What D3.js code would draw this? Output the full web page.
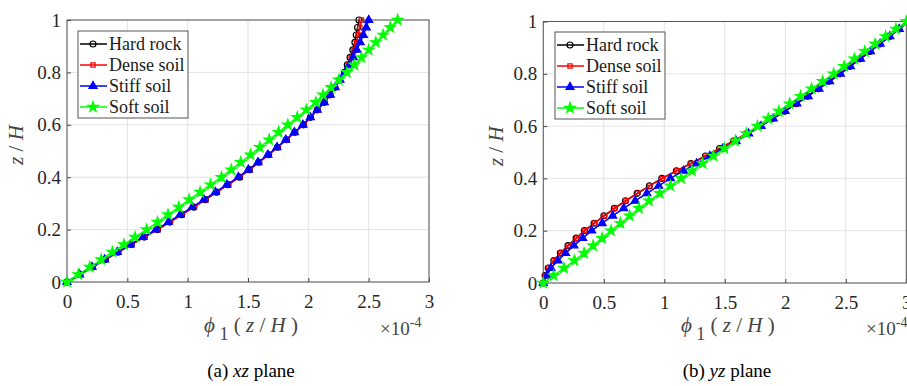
<!DOCTYPE html>
<html>
<head>
<meta charset="utf-8">
<script src="https://cdn.jsdelivr.net/npm/d3@7"></script>
<style>
  body { margin: 0; background: #fff; }
</style>
</head>
<body>
<svg width="907" height="386"></svg>
<script>
// z / H sample points (36 per curve)
const zValues = [0, 0.0286, 0.0571, 0.0857, 0.1143, 0.1429, 0.1714, 0.2, 0.2286, 0.2571, 0.2857, 0.3143,
  0.3429, 0.3714, 0.4, 0.4286, 0.4571, 0.4857, 0.5143, 0.5429, 0.5714, 0.6, 0.6286, 0.6571,
  0.6857, 0.7143, 0.7429, 0.7714, 0.8, 0.8286, 0.8571, 0.8857, 0.9143, 0.9429, 0.9714, 1];

// phi_1 values (x 1e-4), xz plane
const xzHardRock = [0, 0.107, 0.211, 0.318, 0.423, 0.533, 0.64, 0.75, 0.852, 0.95, 1.051, 1.146,
  1.24, 1.334, 1.43, 1.511, 1.59, 1.671, 1.745, 1.818, 1.888, 1.96, 2.018, 2.074,
  2.132, 2.18, 2.22, 2.259, 2.3, 2.323, 2.346, 2.369, 2.386, 2.397, 2.408, 2.42];
const xzDenseSoil = [0, 0.108, 0.213, 0.32, 0.425, 0.535, 0.642, 0.752, 0.854, 0.952, 1.053, 1.148,
  1.242, 1.336, 1.432, 1.513, 1.592, 1.673, 1.747, 1.82, 1.89, 1.962, 2.02, 2.076,
  2.134, 2.183, 2.224, 2.264, 2.305, 2.33, 2.355, 2.378, 2.398, 2.413, 2.427, 2.44];
const xzStiffSoil = [0, 0.104, 0.207, 0.312, 0.416, 0.524, 0.63, 0.737, 0.84, 0.938, 1.038, 1.135,
  1.23, 1.325, 1.42, 1.503, 1.583, 1.664, 1.74, 1.813, 1.884, 1.955, 2.016, 2.074,
  2.132, 2.182, 2.222, 2.262, 2.305, 2.34, 2.372, 2.402, 2.43, 2.456, 2.48, 2.5];
const xzSoftSoil = [0, 0.094, 0.188, 0.284, 0.376, 0.472, 0.564, 0.66, 0.75, 0.837, 0.927, 1.013,
  1.103, 1.19, 1.28, 1.361, 1.44, 1.521, 1.598, 1.676, 1.753, 1.83, 1.908, 1.984,
  2.062, 2.122, 2.189, 2.253, 2.32, 2.381, 2.44, 2.5, 2.559, 2.62, 2.679, 2.74];

// phi_1 values (x 1e-4), yz plane
const yzHardRock = [0, 0.015, 0.041, 0.087, 0.141, 0.204, 0.271, 0.34, 0.42, 0.501, 0.587, 0.679,
  0.776, 0.877, 0.98, 1.1, 1.22, 1.34, 1.457, 1.572, 1.681, 1.79, 1.893, 1.994,
  2.091, 2.184, 2.273, 2.361, 2.45, 2.533, 2.616, 2.699, 2.78, 2.86, 2.94, 3.02];
const yzDenseSoil = [0, 0.016, 0.043, 0.089, 0.144, 0.207, 0.275, 0.344, 0.424, 0.505, 0.591, 0.683,
  0.779, 0.88, 0.983, 1.102, 1.222, 1.342, 1.459, 1.573, 1.682, 1.79, 1.893, 1.994,
  2.091, 2.184, 2.273, 2.361, 2.45, 2.533, 2.616, 2.699, 2.78, 2.86, 2.94, 3.02];
const yzStiffSoil = [0, 0.029, 0.064, 0.121, 0.184, 0.253, 0.326, 0.4, 0.486, 0.573, 0.664, 0.759,
  0.856, 0.953, 1.05, 1.159, 1.267, 1.376, 1.484, 1.593, 1.697, 1.8, 1.9, 1.999,
  2.096, 2.189, 2.278, 2.366, 2.455, 2.538, 2.621, 2.704, 2.784, 2.864, 2.942, 3.02];
const yzSoftSoil = [0, 0.086, 0.171, 0.257, 0.337, 0.412, 0.486, 0.56, 0.637, 0.714, 0.791, 0.874,
  0.963, 1.051, 1.14, 1.229, 1.317, 1.406, 1.496, 1.587, 1.679, 1.77, 1.859, 1.947,
  2.036, 2.126, 2.217, 2.309, 2.4, 2.486, 2.571, 2.657, 2.743, 2.829, 2.914, 3.0];

const seriesNames = ["Hard rock", "Dense soil", "Stiff soil", "Soft soil"];
const seriesColors = ["#000000", "#ff0000", "#0000ff", "#00ff00"];
const xTicks = [0, 0.5, 1, 1.5, 2, 2.5, 3];
const yTicks = [0, 0.2, 0.4, 0.6, 0.8, 1];

const symbols = [
  { type: d3.symbolCircle, size: 28, fill: "none" },
  { type: d3.symbolSquare, size: 18, fill: "none" },
  { type: d3.symbolTriangle, size: 28, fill: "#0000ff" },
  { type: d3.symbolStar, size: 34, fill: "#00ff00" }
];

const serif = '"Liberation Serif"';
const svg = d3.select("svg");

function drawPanel(p) {
  const x = d3.scaleLinear().domain([0, 3]).range([p.left, p.right]);
  const y = d3.scaleLinear().domain([0, 1]).range([p.bottom, p.top]);
  const g = svg.append("g");

  // grid
  g.append("g").selectAll("line").data(xTicks).join("line")
    .attr("x1", d => x(d)).attr("x2", d => x(d))
    .attr("y1", p.top).attr("y2", p.bottom)
    .attr("stroke", "#e3e3e3").attr("stroke-width", 1);
  g.append("g").selectAll("line").data(yTicks).join("line")
    .attr("x1", p.left).attr("x2", p.right)
    .attr("y1", d => y(d)).attr("y2", d => y(d))
    .attr("stroke", "#e3e3e3").attr("stroke-width", 1);

  // axes
  const xAxis = g.append("g")
    .attr("transform", `translate(0,${p.bottom})`)
    .call(d3.axisBottom(x).tickValues(xTicks).tickFormat(d => d).tickSize(-4).tickPadding(13));
  const yAxis = g.append("g")
    .attr("transform", `translate(${p.left},0)`)
    .call(d3.axisLeft(y).tickValues(yTicks).tickFormat(d => d).tickSize(-4).tickPadding(6));
  [xAxis, yAxis].forEach(a => {
    a.select(".domain").remove();
    a.selectAll(".tick line").attr("stroke", "#444");
    a.selectAll("text").style("font-family", serif).style("font-size", "19px").attr("fill", "#262626");
  });

  // box
  g.append("rect")
    .attr("x", p.left).attr("y", p.top)
    .attr("width", p.right - p.left).attr("height", p.bottom - p.top)
    .attr("fill", "none").attr("stroke", "#555").attr("stroke-width", 1);

  // curves
  const line = d3.line().x(d => x(d[0])).y(d => y(d[1]));
  p.series.forEach((vals, i) => {
    const pts = vals.map((v, k) => [v, zValues[k]]);
    g.append("path").datum(pts)
      .attr("d", line)
      .attr("fill", "none").attr("stroke", seriesColors[i]).attr("stroke-width", 1.5);
    const s = symbols[i];
    g.append("g").selectAll("path").data(pts).join("path")
      .attr("d", d3.symbol().type(s.type).size(s.size))
      .attr("transform", d => `translate(${x(d[0])},${y(d[1])})`)
      .attr("fill", s.fill).attr("stroke", seriesColors[i]).attr("stroke-width", 1.2);
  });

  // legend
  const lg = g.append("g").attr("transform", `translate(${p.legX},${p.legY})`);
  lg.append("rect").attr("width", 110).attr("height", 87)
    .attr("fill", "#fff").attr("stroke", "#555").attr("stroke-width", 1);
  seriesNames.forEach((name, i) => {
    const ry = 13 + i * 21;
    lg.append("line").attr("x1", 2).attr("x2", 29).attr("y1", ry).attr("y2", ry)
      .attr("stroke", seriesColors[i]).attr("stroke-width", 1.5);
    lg.append("path").attr("d", d3.symbol().type(symbols[i].type).size(symbols[i].size))
      .attr("transform", `translate(15,${ry})`)
      .attr("fill", symbols[i].fill).attr("stroke", seriesColors[i]).attr("stroke-width", 1.2);
    lg.append("text").attr("x", 31).attr("y", ry + 6)
      .style("font-family", serif).style("font-size", "18px")
      .attr("fill", "#1a1a1a").text(name);
  });

  // y label
  const yl = g.append("text")
    .attr("transform", `translate(${p.yLabX},${(p.top + p.bottom) / 2 - 6}) rotate(-90)`)
    .attr("text-anchor", "middle").style("font-family", serif).style("font-size", "21px")
    .attr("fill", "#444");
  yl.append("tspan").attr("font-style", "italic").text("z");
  yl.append("tspan").text(" / ");
  yl.append("tspan").attr("font-style", "italic").text("H");

  // x label
  const xl = g.append("text")
    .attr("x", (p.left + p.right) / 2 + 3).attr("y", 332)
    .attr("text-anchor", "middle").style("font-family", serif).style("font-size", "21px")
    .attr("fill", "#444");
  xl.append("tspan").attr("font-style", "italic").text("\u03d5");
  xl.append("tspan").attr("dy", 8).style("font-size", "18px").text(" 1");
  xl.append("tspan").attr("dy", -8).text(" ( ");
  xl.append("tspan").attr("font-style", "italic").text("z");
  xl.append("tspan").text(" / ");
  xl.append("tspan").attr("font-style", "italic").text("H");
  xl.append("tspan").text(" )");

  // exponent
  const ex = g.append("text").attr("x", p.expX).attr("y", 335)
    .style("font-family", serif).style("font-size", "19px").attr("fill", "#444");
  ex.append("tspan").text("\u00d710");
  ex.append("tspan").attr("dy", -8).style("font-size", "14px").text("-4");

  // caption
  const cp = g.append("text").attr("x", p.capX).attr("y", 377)
    .attr("text-anchor", "middle").style("font-family", serif).style("font-size", "19px")
    .attr("fill", "#000");
  cp.append("tspan").text(p.capLetter + "  ");
  cp.append("tspan").attr("font-style", "italic").text(p.capPlane);
  cp.append("tspan").text(" plane");
}

drawPanel({
  left: 67, right: 429, top: 20, bottom: 282,
  series: [xzHardRock, xzDenseSoil, xzStiffSoil, xzSoftSoil],
  legX: 78, legY: 31, yLabX: 23, expX: 380, capX: 251,
  capLetter: "(a)", capPlane: "xz"
});
drawPanel({
  left: 543.3, right: 906.3, top: 21.5, bottom: 283,
  series: [yzHardRock, yzDenseSoil, yzStiffSoil, yzSoftSoil],
  legX: 555, legY: 32, yLabX: 503, expX: 866, capX: 727,
  capLetter: "(b)", capPlane: "yz"
});
</script>
</body>
</html>
